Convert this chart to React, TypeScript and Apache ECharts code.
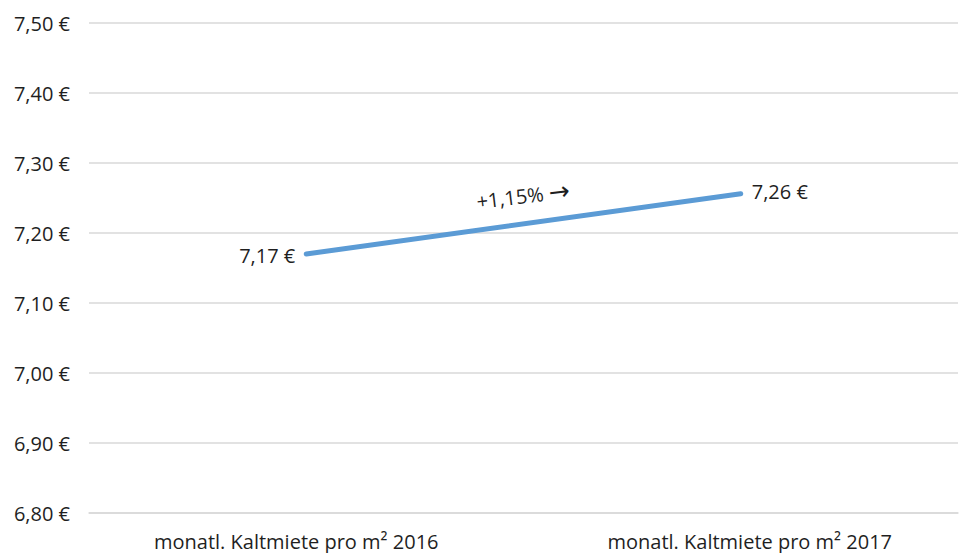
import React, { useEffect, useRef } from "react";
import * as echarts from "echarts";

const categories = ["monatl. Kaltmiete pro m² 2016", "monatl. Kaltmiete pro m² 2017"];
const rentValues = [7.17, 7.256];
const valueLabels = ["7,17 €", "7,26 €"];
const changeText = "+1,15%";
const changeArrow = "→";
const yMin = 6.8;
const yMax = 7.5;
const yStep = 0.1;

const FONT = "'Open Sans', 'Noto Sans', sans-serif";
const TEXT = "#1f1f1f";
const FS = 20;

export default function App() {
  const ref = useRef<HTMLDivElement>(null);
  useEffect(() => {
    if (!ref.current) return;
    const chart = echarts.init(ref.current, undefined, { renderer: "svg" });
    chart.setOption({
      animation: false,
      grid: { left: 89, right: 5, top: 23, bottom: 40, containLabel: false },
      xAxis: {
        type: "category",
        data: categories,
        boundaryGap: true,
        axisLine: { show: true, lineStyle: { color: "#d9d9d9", width: 1.5 } },
        axisTick: { show: false },
        axisLabel: {
          color: TEXT,
          fontFamily: FONT,
          fontSize: FS,
          margin: 18,
          formatter: (v: string, i: number) => (i === 0 ? `{a|${v}}` : `{b|${v}}`),
          rich: {
            a: { color: TEXT, fontFamily: FONT, fontSize: FS, padding: [0, 20, 0, 0] },
            b: { color: TEXT, fontFamily: FONT, fontSize: FS, padding: [0, 0, 0, 18] },
          },
        },
      },
      yAxis: {
        type: "value",
        min: yMin,
        max: yMax,
        interval: yStep,
        axisLine: { show: false },
        axisTick: { show: false },
        splitLine: { lineStyle: { color: "#d9d9d9", width: 1.5 } },
        axisLabel: {
          color: TEXT,
          fontFamily: FONT,
          fontSize: FS,
          margin: 19,
          formatter: (v: number) => v.toFixed(2).replace(".", ",") + " €",
        },
      },
      series: [
        {
          type: "line",
          data: rentValues.map((v, i) => ({
            value: v,
            label: {
              show: true,
              position: i === 0 ? "left" : "right",
              distance: 10,
              formatter: valueLabels[i],
              color: TEXT,
              fontFamily: FONT,
              fontSize: FS,
              offset: i === 0 ? [0, 1] : [0, -2],
            },
          })),
          symbol: "circle",
          symbolSize: 2,
          showSymbol: true,
          itemStyle: { color: "rgba(91,155,213,0)", borderWidth: 0 },
          lineStyle: { color: "#5B9BD5", width: 5, cap: "round" },
        },
      ],
      graphic: [
        {
          type: "text",
          x: 523,
          y: 196,
          rotation: 0.12,
          style: {
            text: `{t|${changeText}} {r|${changeArrow}}`,
            fill: TEXT,
            font: `${FS}px ${FONT}`,
            textAlign: "center",
            textVerticalAlign: "middle",
            rich: {
              t: { fill: TEXT, fontFamily: FONT, fontSize: FS },
              r: { fill: TEXT, fontFamily: "'DejaVu Sans', sans-serif", fontSize: 25 },
            },
          },
        },
      ],
    });
    return () => chart.dispose();
  }, []);
  return <div ref={ref} style={{ width: 963, height: 553, position: "absolute", left: 0, top: 0 }} />;
}
